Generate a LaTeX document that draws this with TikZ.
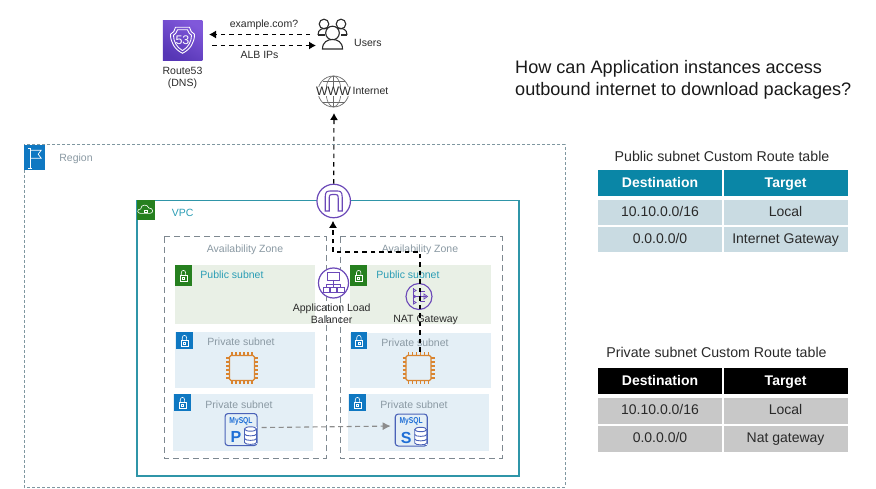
\documentclass[tikz,border=0pt]{standalone}
\usepackage{fontspec}
\setmainfont{Liberation Sans}
\usetikzlibrary{arrows.meta,calc}
\definecolor{regionc}{HTML}{7F97A0}
\definecolor{azc}{HTML}{7E8890}
\definecolor{vpcc}{HTML}{2F95A8}
\definecolor{pubfill}{HTML}{E9F0E6}
\definecolor{privfill}{HTML}{E4EFF6}
\definecolor{greenb}{HTML}{26801F}
\definecolor{blueb}{HTML}{0F78C2}
\definecolor{tealt}{HTML}{2A9DB5}
\definecolor{grayt}{HTML}{8A99A3}
\definecolor{purp}{HTML}{6B48B8}
\definecolor{chipc}{HTML}{D9842F}
\definecolor{dbc}{HTML}{4A62B8}
\definecolor{dbt}{HTML}{1F6FD6}
\definecolor{hdrteal}{HTML}{0A86A6}
\definecolor{rowteal}{HTML}{C9DBE2}
\definecolor{rowgray}{HTML}{C8C8C8}
\definecolor{txt}{HTML}{2A2A2A}
\definecolor{r53a}{HTML}{5636B5}
\definecolor{r53b}{HTML}{8058DA}
\newcommand{\fsz}[1]{\fontsize{#1}{#1}\selectfont}
\tikzset{
 x=1pt,y=-1pt,
 regionbox/.style={draw=regionc,line width=1pt,dash pattern=on 3pt off 2pt},
 vpcbox/.style={draw=vpcc,line width=1.6pt},
 azbox/.style={draw=azc,line width=1pt,dash pattern=on 6pt off 4pt},
 pubbox/.style={fill=pubfill},
 privbox/.style={fill=privfill},
 badge/.style={rectangle,inner sep=0pt,anchor=north west},
 lab/.style={inner sep=0pt,align=center,text=txt,font=\fsz{10.5}},
 graylab/.style={inner sep=0pt,text=grayt,font=\fsz{10.5}},
 teallab/.style={inner sep=0pt,text=tealt,font=\fsz{10.5}},
 purpcirc/.style={circle,draw=purp,line width=1.2pt,fill=white,inner sep=0pt},
 flow/.style={draw=black,line width=1.1pt,dash pattern=on 4.5pt off 4pt,-{Latex[length=7pt,width=8pt]}},
 replflow/.style={draw=gray!90,line width=1.1pt,dash pattern=on 5pt off 3.5pt,-{Latex[length=8pt,width=8pt]}},
 hdr/.style={inner sep=0pt,text=white,font=\fsz{14}\bfseries,text height=10pt,text depth=1pt},
 cell/.style={inner sep=0pt,text=txt,font=\fsz{14},text height=10pt,text depth=3pt},
 ttl/.style={inner sep=0pt,text=txt,font=\fsz{14.2}},
 iconline/.style={draw=txt,line width=1.1pt},
}
\newcommand{\lockbadge}[6]{%
 \node[badge,fill=#6,minimum width=#4pt,minimum height=#5pt] (#1) at (#2,#3) {};
 \begin{scope}[shift={(#1.center)},white,line width=.6pt]
  \draw (-3.5,-.5) rectangle (3.5,6);
  \draw (-2.2,-.5) -- (-2.2,-3) .. controls (-2.2,-6) and (2.2,-6) .. (2.2,-3) -- (2.2,-.5);
  \draw (-1,2) rectangle (1,4);
 \end{scope}}
\newcommand{\chipicon}[3]{%
 \node[rectangle,draw=chipc,line width=1.4pt,rounded corners=1.5pt,minimum size=25pt,inner sep=0pt] (#1) at (#2,#3) {};
 \begin{scope}[shift={(#1.center)},chipc,line width=1.1pt]
  \foreach \k in {-10,-6,-2,2,6,10}{
   \draw (\k,-16) -- (\k,-12.5); \draw (\k,12.5) -- (\k,16);
   \draw (-16,\k) -- (-12.5,\k); \draw (12.5,\k) -- (16,\k);}
 \end{scope}}
\newcommand{\dbicon}[4]{%
 \node[rectangle,draw=dbc,line width=1.1pt,rounded corners=3pt,anchor=north west,minimum width=32pt,minimum height=32pt,inner sep=0pt] (#1) at (#2,#3) {};
 \node[inner sep=0pt,text=dbt,font=\fsz{8.6}\bfseries,xscale=.78] at ($(#1.north west)+(16.5,8)$) {MySQL};
 \node[inner sep=0pt,text=dbt,font=\fsz{16}\bfseries] at ($(#1.north west)+(11.5,24)$) {#4};
 \begin{scope}[shift={(#1.north west)},dbc,line width=.9pt]
  \fill[white] (20,14) rectangle (32,31);
  \draw (20,16) -- (20,29.5) .. controls (20,32) and (32,32) .. (32,29.5) -- (32,16);
  \draw (26,16) ellipse [x radius=6,y radius=2.2];
  \draw (20,21) .. controls (20,23.5) and (32,23.5) .. (32,21);
  \draw (20,25.5) .. controls (20,28) and (32,28) .. (32,25.5);
 \end{scope}}
% name x1 y1 x2 y2 fill style text
\newcommand{\tcell}[8]{\path[fill=#6] (#2,#3) rectangle node[#7] (#1) {#8} (#4,#5);}
\begin{document}
\begin{tikzpicture}
\useasboundingbox (0,0) rectangle (876,489);
\fill[white] (0,0) rectangle (876,489);
% containers
\draw[regionbox] (24,145) rectangle (565,487);
\draw[vpcbox] (137,200.5) rectangle (519,476);
\node[badge,fill=blueb,minimum width=21pt,minimum height=25pt] (flag) at (23.5,144.5) {};
\begin{scope}[shift={(flag.center)},white,line width=.7pt]
 \draw (-6,11) -- (-2,11); \draw (-4,11) -- (-4,-9); \draw (-6,-9) -- (-4,-9);
 \draw (-4,-7) -- (7,-7) -- (4,-3) -- (7,1) -- (-4,1);
\end{scope}
\node[graylab] (regionlab) at (76,158.5) {Region};
\node[badge,fill=greenb,minimum width=17.5pt,minimum height=19.5pt] (cloud) at (136.8,200) {};
\begin{scope}[shift={(cloud.center)},white,line width=.6pt]
 \draw (-5,3.5) .. controls (-9,3.5) and (-9,-1) .. (-5,-1) .. controls (-5,-6) and (2,-6) .. (3,-2) .. controls (8,-2) and (8,3.5) .. (4,3.5) -- cycle;
 \draw (-1,.2) rectangle (1.5,2.2);
\end{scope}
\node[teallab] (vpclab) at (182.7,213) {VPC};
\draw[azbox] (164,237) rectangle (326,458);
\draw[azbox] (340,237) rectangle (502,458);
\node[graylab] (azl) at (245,250) {Availability Zone};
\node[graylab] (azr) at (420,250) {Availability Zone};
% subnets
\fill[pubbox] (175,265) rectangle (315,324);
\fill[pubbox] (350,265) rectangle (491,324);
\fill[privbox] (175,332) rectangle (315,388);
\fill[privbox] (350,333) rectangle (491,388);
\fill[privbox] (173,394) rectangle (313,451);
\fill[privbox] (348,394) rectangle (489,451);
\lockbadge{l1}{174.5}{265}{17.5}{21}{greenb}
\lockbadge{l2}{350}{265}{17}{21}{greenb}
\lockbadge{l3}{176}{332}{16.5}{17}{blueb}
\lockbadge{l4}{350.5}{332}{16.5}{17}{blueb}
\lockbadge{l5}{174}{394}{16.5}{17}{blueb}
\lockbadge{l6}{349}{394}{16.5}{17}{blueb}
\node[teallab] (s1) at (232,275) {Public subnet};
\node[teallab] (s2) at (408,275) {Public subnet};
\node[graylab] (s3) at (241,342) {Private subnet};
\node[graylab] (s4) at (415,342.5) {Private subnet};
\node[graylab] (s5) at (239,405) {Private subnet};
\node[graylab] (s6) at (414,405) {Private subnet};
% compute
\chipicon{chipl}{242}{368}
\chipicon{chipr}{418.5}{368}
\dbicon{dbp}{224.5}{413}{P}
\dbicon{dbs}{394.7}{413.5}{S}
\coordinate (dbpout) at ($(dbp.east)+(4,-2)$);
\coordinate (dbsin) at ($(dbs.west)+(-4,-4)$);
\draw[replflow] (dbpout) -- (dbsin);
% gateway, balancers
\node[purpcirc,minimum size=33.5pt] (igw) at (333.7,201) {};
\begin{scope}[shift={(igw.center)},purp,line width=1.1pt]
 \draw (-8.5,10) -- (-8.5,-4) .. controls (-8.5,-10) and (-6,-10) .. (-3,-10) -- (3,-10) .. controls (6,-10) and (8.5,-10) .. (8.5,-4) -- (8.5,10) -- (4.5,10) -- (4.5,-3) .. controls (4.5,-6.5) and (3,-6.5) .. (1.5,-6.5) -- (-1.5,-6.5) .. controls (-3,-6.5) and (-4.5,-6.5) .. (-4.5,-3) -- (-4.5,10) -- cycle;
\end{scope}
\node[purpcirc,minimum size=30pt] (alb) at (333.5,283) {};
\begin{scope}[shift={(alb.center)},purp,line width=.9pt]
 \draw (-6,-10.5) rectangle (6,-3);
 \draw (0,-3) -- (0,4);
 \draw (-7,4) -- (-7,1) -- (7,1) -- (7,4);
 \draw (-10.5,4) rectangle (-4,9.5);
 \draw (-3,4) rectangle (3,9.5);
 \draw (4,4) rectangle (10.5,9.5);
\end{scope}
\node[lab,font=\fontsize{10.5}{12}\selectfont] (alblab) at (331.7,313.7) {Application Load\\Balancer};
\node[circle,draw=purp,line width=1.1pt,inner sep=0pt,minimum size=26pt] (nat) at (419,296.5) {};
\begin{scope}[shift={(nat.center)},purp,line width=.8pt]
 \draw (-6,-8) -- (-6,8);
 \draw (-6,0) -- (7,0);
 \draw (1,-6) -- (1,6);
 \draw (1,-5) -- (6,-5) (1,5) -- (6,5);
 \foreach \k in {-6,0,6}{\draw (-6,\k-1.8) -- (-3,\k) -- (-6,\k+1.8);}
 \draw (5,-2.5) -- (8.5,0) -- (5,2.5) -- cycle;
\end{scope}
\node[lab] (natlab) at (425.7,319.7) {NAT Gateway};
% flow from instance to the gateway
\coordinate (natcorner) at (420,252);
\coordinate (igwcorner) at (333,252);
\draw[flow] ($(chipr.north)+(1.5,-3)$) -- (natcorner) -- (igwcorner) -- ($(igw.south)+(-.7,2.5)$);
% top
\node[rectangle,inner sep=0pt,minimum width=39.5pt,minimum height=39.5pt,bottom color=r53a,top color=r53b,shading angle=-30] (r53) at (182.5,40.3) {};
\begin{scope}[shift={(r53.center)},white,line width=.9pt]
 \draw (-12,-6) .. controls (-9,-7) and (-8,-10) .. (-7,-13) -- (7,-13) .. controls (8,-10) and (9,-7) .. (12,-6) .. controls (12,2) and (8,9) .. (0,13) .. controls (-8,9) and (-12,2) .. (-12,-6) -- cycle;
 \draw (-9,-5) .. controls (-7,-6) and (-6,-8) .. (-5,-10.5) -- (5,-10.5) .. controls (6,-8) and (7,-6) .. (9,-5) .. controls (9,1) and (6,7) .. (0,10.3) .. controls (-6,7) and (-9,1) .. (-9,-5) -- cycle;
 \node[inner sep=0pt,text=white,font=\fsz{12.5}] at (0,-.5) {53};
\end{scope}
\node[lab,font=\fontsize{10.5}{12}\selectfont] (r53lab) at (182.5,78) {Route53\\(DNS)};
% users
\node[inner sep=0pt,minimum width=28pt,minimum height=30pt] (users) at (332.5,34) {};
\begin{scope}[shift={(users.center)}]
 \draw[iconline] (-8.5,-10) circle (4.8);
 \draw[iconline] (8.5,-10) circle (4.8);
 \draw[iconline] (-14.5,1) .. controls (-14.5,-5) and (-10,-5.5) .. (-8,-5.5) .. controls (-6,-5.5) and (-3,-5) .. (-2,-3);
 \draw[iconline] (14.5,1) .. controls (14.5,-5) and (10,-5.5) .. (8,-5.5) .. controls (6,-5.5) and (3,-5) .. (2,-3);
 \draw[iconline] (-14.5,1) -- (-8,1) (14.5,1) -- (8,1);
 \draw[iconline,fill=white] (0,-1) circle (6.8);
 \draw[iconline,fill=white] (-10,15) .. controls (-10,8) and (-5,5.5) .. (0,5.5) .. controls (5,5.5) and (10,8) .. (10,15) -- cycle;
\end{scope}
\node[lab,anchor=west] (userslab) at (354,43) {Users};
\node[lab] (q) at (264,25) {example.com?};
\node[lab] (ips) at (259.5,55) {ALB IPs};
\coordinate (uo) at (310,34.5);
\coordinate (ro) at (209,34.5);
\coordinate (rs) at (212,45.5);
\coordinate (ui) at (316,45.5);
\draw[flow] (uo) -- (ro);
\draw[flow] (rs) -- (ui);
% internet
\node[circle,draw=txt!70,line width=.7pt,inner sep=0pt,minimum size=31pt] (www) at (333.5,91.5) {};
\begin{scope}[shift={(www.center)},txt!70,line width=.6pt]
 \draw (0,0) ellipse [x radius=7.5,y radius=15.5];
 \draw (0,-15.5) -- (0,15.5);
 \draw (-11,-10.5) -- (11,-10.5) (-11,10.5) -- (11,10.5);
\end{scope}
\node[inner sep=0pt,fill=white,text=txt,font=\fsz{12.3}] (wwwt) at (333.5,91.5) {WWW};
\node[lab,anchor=west] (netlab) at (352.5,91) {Internet};
\coordinate (wwwin) at (334,113);
\draw[flow] (igw.north) -- (wwwin);
% question
\node[inner sep=0pt,anchor=north west,align=left,text=black!90,font=\fontsize{18.1}{22}\selectfont] (question) at (515,60) {How can Application instances access\\outbound internet to download packages?};
% public table
\node[ttl] (pubt) at (722,156.5) {Public subnet Custom Route table};
\tcell{h1}{598}{170}{722}{195.7}{hdrteal}{hdr}{Destination}
\tcell{h2}{723.5}{170}{847.7}{195.7}{hdrteal}{hdr}{Target}
\tcell{a1}{598}{200}{722}{225.3}{rowteal}{cell}{10.10.0.0/16}
\tcell{a2}{723.5}{200}{847.7}{225.3}{rowteal}{cell}{Local}
\tcell{b1}{598}{227.3}{722}{252.5}{rowteal}{cell}{0.0.0.0/0}
\tcell{b2}{723.5}{227.3}{847.7}{252.5}{rowteal}{cell}{Internet Gateway}
% private table
\node[ttl] (prit) at (716.5,352) {Private subnet Custom Route table};
\tcell{h3}{598}{368.3}{722}{394.3}{black}{hdr}{Destination}
\tcell{h4}{723.5}{368.3}{847.7}{394.3}{black}{hdr}{Target}
\tcell{c1}{598}{398.3}{722}{424}{rowgray}{cell}{10.10.0.0/16}
\tcell{c2}{723.5}{398.3}{847.7}{424}{rowgray}{cell}{Local}
\tcell{d1}{598}{425.5}{722}{451.7}{rowgray}{cell}{0.0.0.0/0}
\tcell{d2}{723.5}{425.5}{847.7}{451.7}{rowgray}{cell}{Nat gateway}
\end{tikzpicture}
\end{document}
